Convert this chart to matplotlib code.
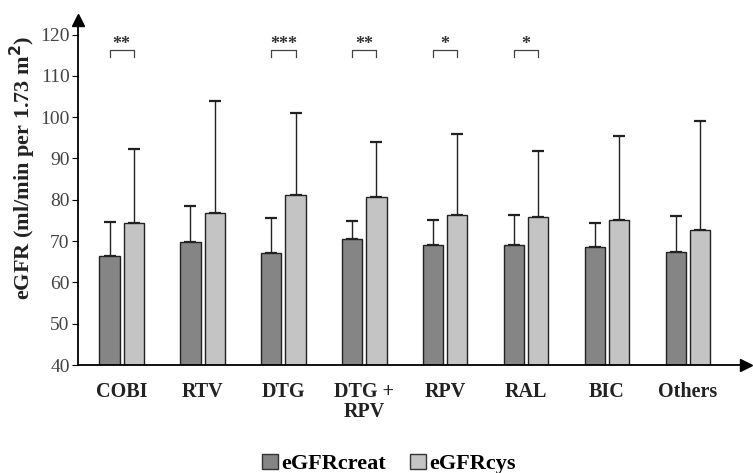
import numpy as np
import matplotlib.pyplot as plt
from matplotlib.patches import Patch

plt.rcParams['font.family'] = ['Liberation Serif', 'DejaVu Serif']

categories = ['COBI', 'RTV', 'DTG', 'DTG +\nRPV', 'RPV', 'RAL', 'BIC', 'Others']
creat_mean = [66.4, 69.7, 67.1, 70.5, 69.0, 69.0, 68.6, 67.3]
creat_upper = [74.6, 78.4, 75.7, 74.8, 75.0, 76.4, 74.4, 76.0]
cys_mean = [74.4, 76.7, 81.1, 80.7, 76.2, 75.8, 75.2, 72.8]
cys_upper = [92.3, 104.0, 101.0, 94.0, 96.0, 91.8, 95.5, 99.0]
sig_labels = ['**', '', '***', '**', '*', '*', '', '']

c_creat = '#858585'
c_cys = '#c4c4c4'

fig = plt.figure(figsize=(7.53, 4.73), dpi=100)
ax = fig.add_axes([78/753, 1 - 365/473, (746 - 78)/753, (365 - 20)/473])

x = np.arange(len(categories))
w = 0.25
off = 0.15

creat_err = np.array(creat_upper) - np.array(creat_mean)
cys_err = np.array(cys_upper) - np.array(cys_mean)

ax.bar(x - off, np.array(creat_mean) - 40, w, bottom=40, color=c_creat,
       edgecolor='#222222', linewidth=1.0, zorder=2)
ax.bar(x + off, np.array(cys_mean) - 40, w, bottom=40, color=c_cys,
       edgecolor='#222222', linewidth=1.0, zorder=2)
ax.errorbar(x - off, creat_mean, yerr=[np.zeros(len(x)), creat_err], fmt='none',
            ecolor='#222222', elinewidth=1.0, capsize=4.5, capthick=1.6, zorder=1)
ax.errorbar(x + off, cys_mean, yerr=[np.zeros(len(x)), cys_err], fmt='none',
            ecolor='#222222', elinewidth=1.0, capsize=4.5, capthick=1.6, zorder=1)

# significance brackets
for i, s in enumerate(sig_labels):
    if not s:
        continue
    x0, x1 = i - off, i + off
    ax.plot([x0, x0, x1, x1], [114.5, 116.2, 116.2, 114.5], color='#444444', lw=0.9)
    ax.text(i, 115.6, s, ha='center', va='bottom', fontsize=13, fontweight='bold',
            color='#333333')

ax.set_xlim(-0.54, 7.72)
ax.set_ylim(40, 40 + 345 / 4.13)
ax.set_yticks(range(40, 121, 10))
ax.tick_params(axis='y', labelsize=14, labelcolor='#444444', length=4, direction='out',
               pad=2)
ax.tick_params(axis='x', length=0, pad=12)
ax.set_xticks(x)
ax.set_xticklabels(categories, fontsize=14.5, fontweight='bold', color='#222222',
                   linespacing=1.05)

ax.spines['top'].set_visible(False)
ax.spines['right'].set_visible(False)
ax.spines['left'].set_linewidth(1.3)
ax.spines['bottom'].set_linewidth(1.3)

# axis arrows
ax.plot(0, 1, '^k', markersize=8, transform=ax.transAxes, clip_on=False)
ax.plot(1, 0, '>k', markersize=8, transform=ax.transAxes, clip_on=False)

ax.set_ylabel('eGFR (ml/min per 1.73 m$^\\mathbf{2}$)', fontsize=16,
              fontweight='bold', color='#222222')
ax.yaxis.set_label_coords(-0.06, 0.571)

handles = [Patch(facecolor=c_creat, edgecolor='#333333', label='eGFRcreat'),
           Patch(facecolor=c_cys, edgecolor='#333333', label='eGFRcys')]
fig.legend(handles=handles, loc='center', bbox_to_anchor=(389/753, 1 - 464/473), ncol=2,
           frameon=False, prop={'size': 16, 'weight': 'bold'}, handlelength=0.7,
           handleheight=0.7, handletextpad=0.15, columnspacing=1.1)

fig.savefig('out.png', dpi=100)
